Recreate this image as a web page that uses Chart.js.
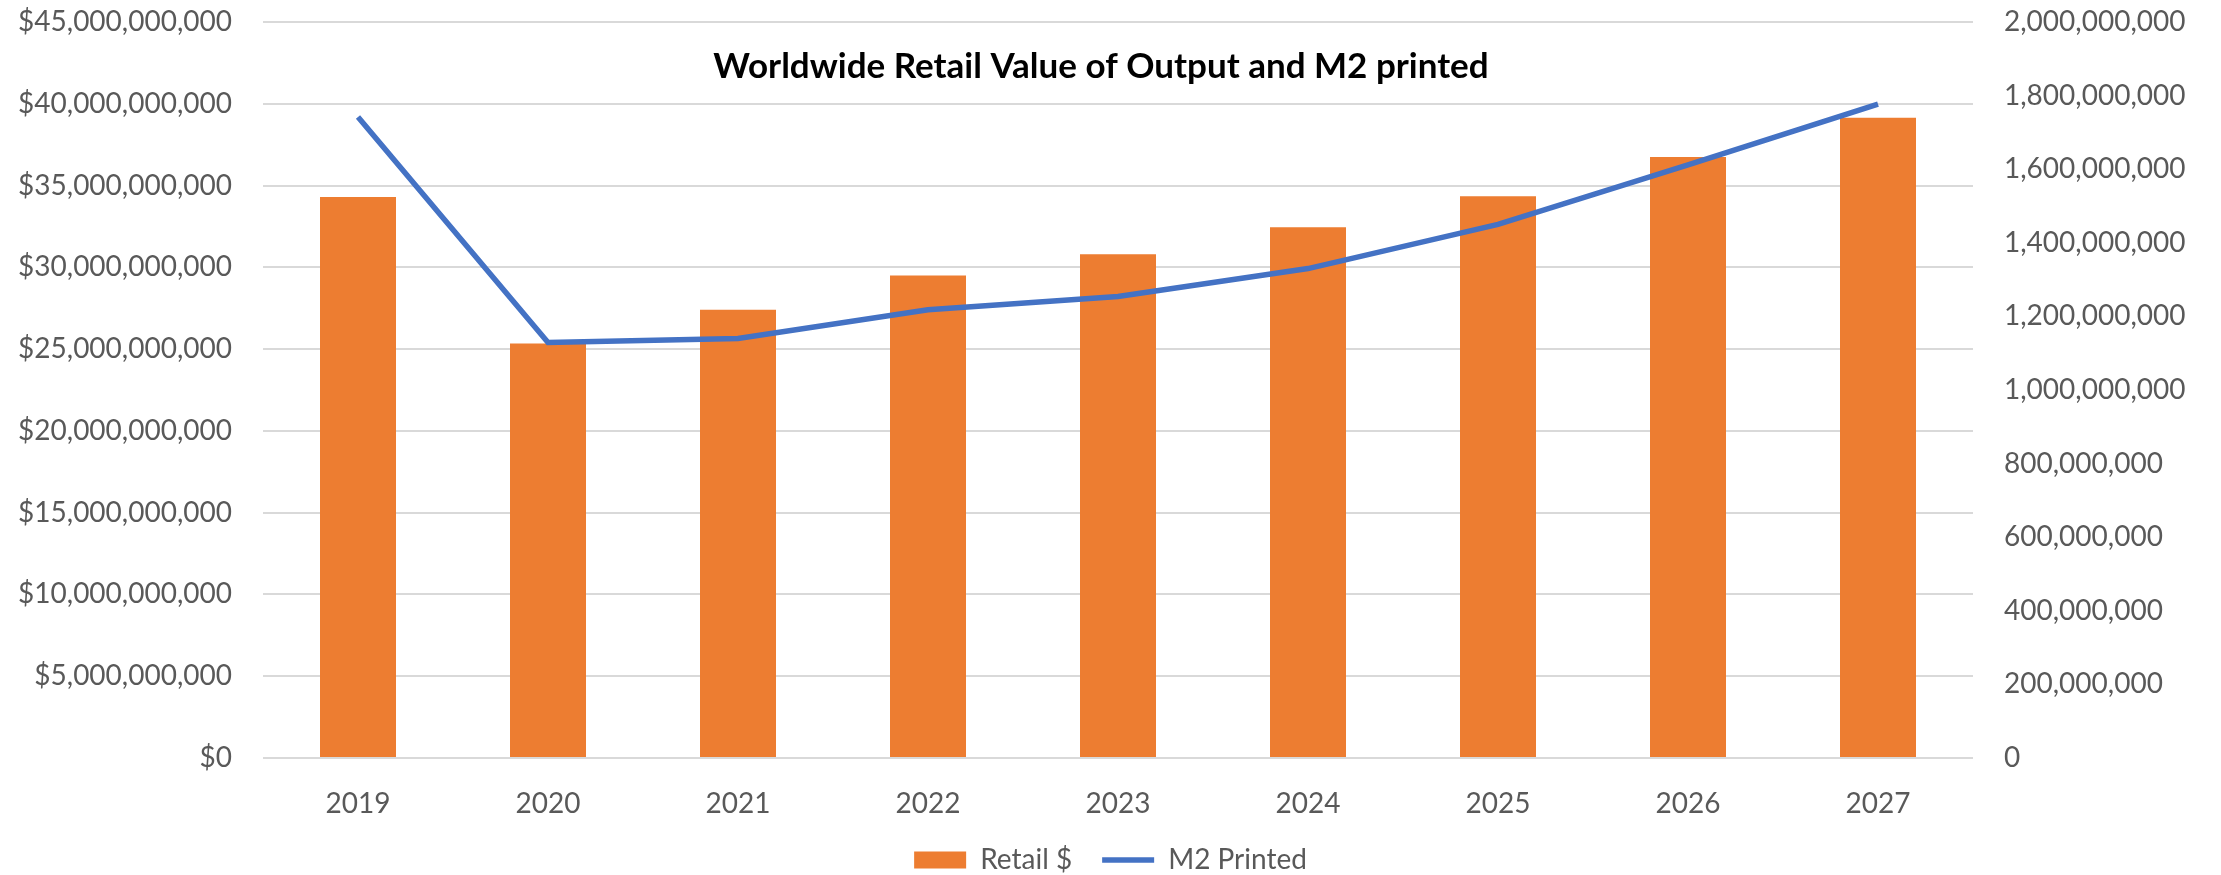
<!DOCTYPE html>
<html>
<head>
<meta charset="utf-8">
<script src="https://cdn.jsdelivr.net/npm/chart.js@4/dist/chart.umd.min.js"></script>
<style>
  body { margin: 0; background: #fff; }
  canvas { display: block; }
</style>
</head>
<body>
<canvas id="chart" width="2221" height="875"></canvas>
<script>
// values
var years = ['2019', '2020', '2021', '2022', '2023', '2024', '2025', '2026', '2027'];
var retailValue = [34.3e9, 25.35e9, 27.4e9, 29.5e9, 30.8e9, 32.45e9, 34.35e9, 36.75e9, 39.15e9];   // left axis, $
var m2Printed = [1.742e9, 1.129e9, 1.14e9, 1.218e9, 1.254e9, 1.33e9, 1.45e9, 1.612e9, 1.777e9];    // right axis, m2
var titleText = 'Worldwide Retail Value of Output and M2 printed';

var grey = '#595959';
var tickFont = { family: 'Lato', size: 28 };

// title sits inside the plot area, so draw it by hand
var titlePlugin = {
  id: 'insideTitle',
  afterDraw: function(chart) {
    var ctx = chart.ctx;
    var area = chart.chartArea;
    ctx.save();
    ctx.font = 'bold 35px Lato';
    ctx.fillStyle = '#000';
    ctx.textAlign = 'center';
    ctx.textBaseline = 'middle';
    ctx.fillText(titleText, (area.left + area.right) / 2 - 17, area.top + 45);
    ctx.restore();
  }
};

var chart = new Chart(document.getElementById('chart'), {
  type: 'bar',
  data: {
    labels: years,
    datasets: [{
      type: 'line',
      label: 'M2 Printed',
      data: m2Printed,
      yAxisID: 'y2',
      borderColor: '#4472C4',
      backgroundColor: '#4472C4',
      borderWidth: 5.5,
      pointRadius: 0,
      pointStyle: 'line',
      tension: 0
    }, {
      label: 'Retail $',
      data: retailValue,
      yAxisID: 'y',
      backgroundColor: '#ED7D31',
      categoryPercentage: 1,
      barPercentage: 0.4
    }]
  },
  options: {
    responsive: false,
    animation: false,
    layout: { padding: { top: 22, bottom: -9, left: 0, right: 0 } },
    plugins: {
      tooltip: { enabled: false },
      legend: {
        position: 'bottom',
        labels: {
          font: tickFont,
          color: grey,
          usePointStyle: true,
          pointStyleWidth: 52,
          boxHeight: 17,
          padding: 30,
          generateLabels: function(chart) {
            var items = Chart.defaults.plugins.legend.labels.generateLabels(chart);
            items.forEach(function(it) {
              it.pointStyle = it.datasetIndex === 0 ? 'line' : 'rect';
            });
            return items.reverse();
          }
        }
      }
    },
    scales: {
      x: {
        grid: { display: false },
        border: { display: false },
        ticks: { font: tickFont, color: grey, padding: 21 },
        afterFit: function(scale) { scale.height = 58; }
      },
      y: {
        position: 'left',
        min: 0,
        max: 45e9,
        // invisible tick marks push the labels away from the plot
        grid: { color: '#d9d9d9', lineWidth: 2, drawTicks: true, tickLength: 31, tickColor: 'rgba(0,0,0,0)' },
        border: { display: false },
        ticks: {
          stepSize: 5e9,
          font: tickFont,
          color: grey,
          padding: 0,
          callback: function(v) { return '$' + v.toLocaleString('en-US'); }
        },
        afterFit: function(scale) { scale.width = 263; }
      },
      y2: {
        position: 'right',
        min: 0,
        max: 2e9,
        grid: { drawOnChartArea: false, drawTicks: true, tickLength: 31, tickColor: 'rgba(0,0,0,0)' },
        border: { display: false },
        ticks: {
          stepSize: 2e8,
          font: tickFont,
          color: grey,
          padding: 0,
          callback: function(v) { return v.toLocaleString('en-US'); }
        },
        afterFit: function(scale) { scale.width = 248; }
      }
    }
  },
  plugins: [titlePlugin]
});
</script>
</body>
</html>
